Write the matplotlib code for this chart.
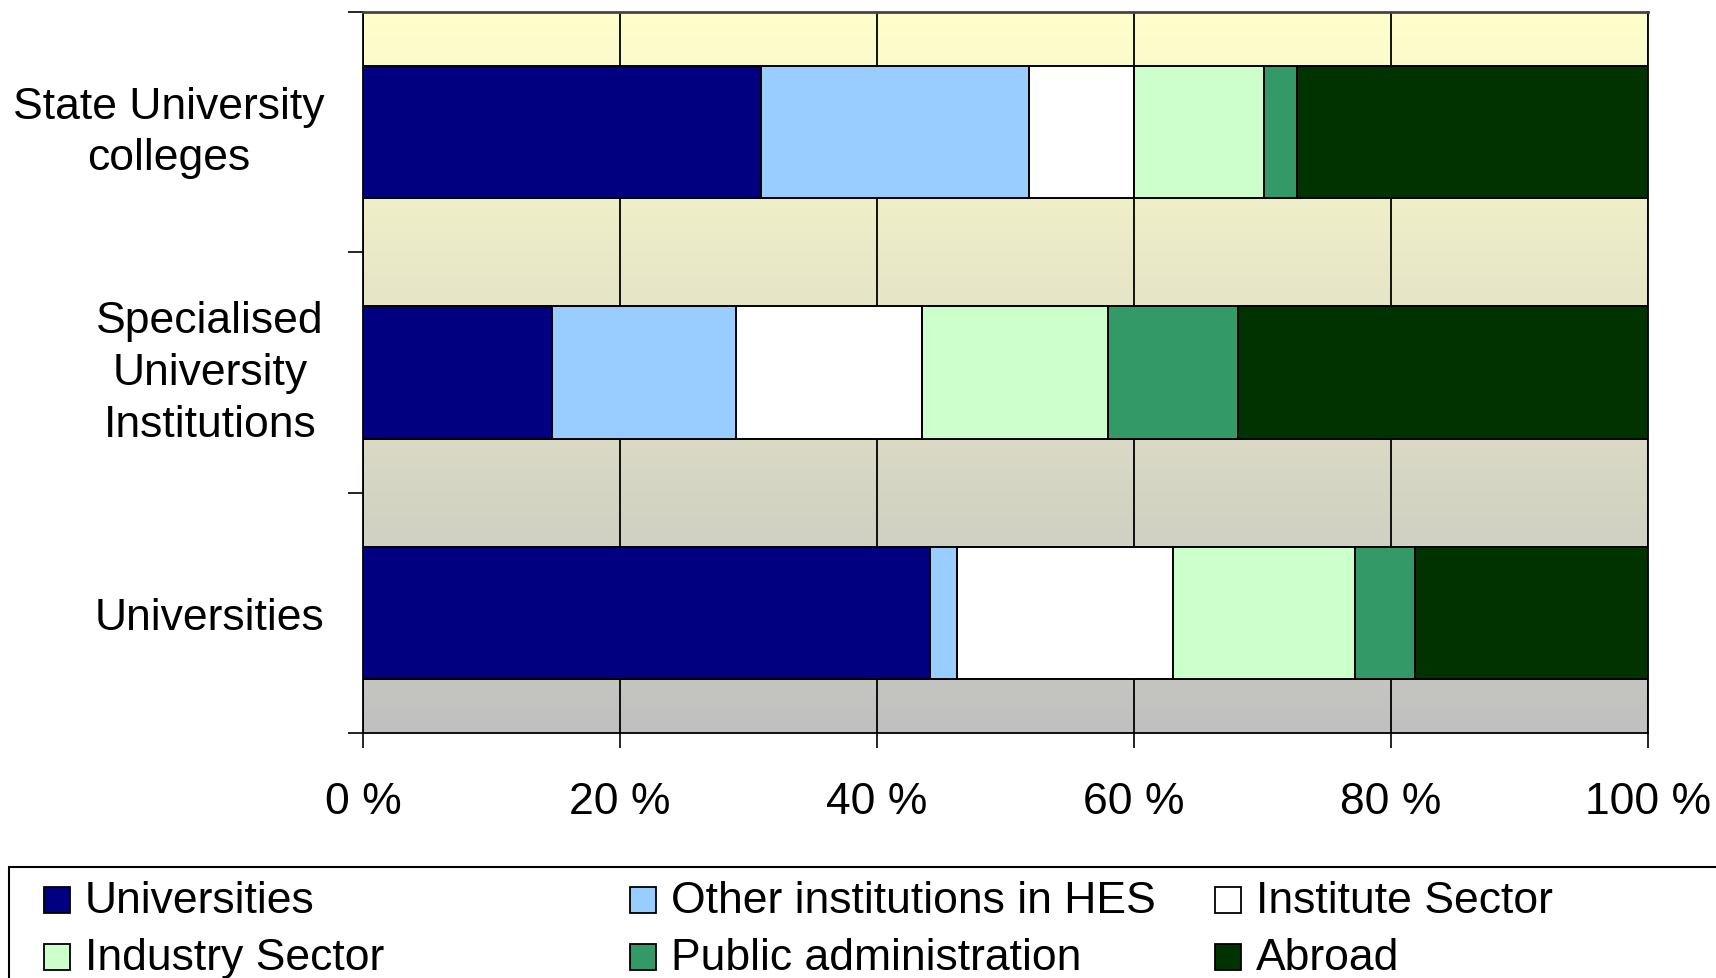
"""Stacked horizontal bars: where PhD graduates went, by institution type."""
import matplotlib
matplotlib.use("Agg")
import matplotlib.pyplot as plt
import numpy as np
from matplotlib.colors import LinearSegmentedColormap
from matplotlib.patches import Rectangle

plt.rcParams["font.family"] = ["Liberation Sans", "DejaVu Sans"]

# bottom -> top order on the y axis
categories = ["Universities", "Specialised\nUniversity\nInstitutions",
              "State University\ncolleges"]
series = ["Universities", "Other institutions in HES", "Institute Sector",
          "Industry Sector", "Public administration", "Abroad"]
colors = ["#000080", "#99CCFF", "#FFFFFF", "#CCFFCC", "#339966", "#003300"]

# percentage shares, one list per series, in category order above
universities = [44.1, 14.7, 31.0]
other_hes = [2.1, 14.3, 20.8]
institute = [16.8, 14.5, 8.2]
industry = [14.2, 14.5, 10.1]
public_admin = [4.7, 10.1, 2.6]
abroad = [18.1, 31.9, 27.3]

xticks = [0, 20, 40, 60, 80, 100]
xticklabels = ["0 %", "20 %", "40 %", "60 %", "80 %", "100 %"]

FS = 32

fig = plt.figure(figsize=(17.16, 9.79), dpi=100)
ax = fig.add_axes([0.2115, 0.2503, 0.9604 - 0.2115, 0.9867 - 0.2503])

# plot-area gradient fill (light yellow at top to grey at bottom)
grad = LinearSegmentedColormap.from_list("bg", ["#C0C0C0", "#FFFFCC"])
ax.imshow(np.linspace(0, 1, 256).reshape(-1, 1), cmap=grad, origin="lower",
          extent=[0, 100, -0.5, 2.5], aspect="auto", zorder=0)

y = np.arange(len(categories))
left = np.zeros(len(categories))
for vals, color, name in zip(
        [universities, other_hes, institute, industry, public_admin, abroad],
        colors, series):
    ax.barh(y, vals, left=left, height=0.55, color=color, edgecolor="black",
            linewidth=1.4, label=name, zorder=2)
    left += np.array(vals)

ax.set_xlim(0, 100)
ax.set_ylim(-0.5, 2.5)
ax.set_xticks(xticks, labels=xticklabels, fontsize=FS)
ax.grid(axis="x", color="black", linewidth=1.3, zorder=0.5)
ax.set_axisbelow(True)

# boundary ticks as major, category names as minor (unticked)
ax.set_yticks([-0.5, 0.5, 1.5, 2.5], labels=[])
ax.set_yticks(y, labels=categories, minor=True, fontsize=FS,
              multialignment="center", linespacing=1.33)
for lbl in ax.get_yticklabels(minor=True):
    if "\n" in lbl.get_text():
        lbl.set_verticalalignment("center")
ax.tick_params(axis="y", which="major", length=10.8, width=1.2)
ax.tick_params(axis="y", which="minor", length=0, pad=28)
ax.tick_params(axis="x", length=10.8, width=1.2, pad=24)

for side in ["left", "right", "top", "bottom"]:
    ax.spines[side].set_color("black")
    ax.spines[side].set_linewidth(1.3)
ax.spines["top"].set_color("#444444")
ax.spines["top"].set_linewidth(2.0)

# legend box (runs off the right and bottom of the canvas as in the source)
fig.add_artist(Rectangle((0.0052, -0.2), 1.2, 0.2 + 0.1134,
                         transform=fig.transFigure, facecolor="white",
                         edgecolor="black", linewidth=1.5, zorder=5))
col_x = [0.0256, 0.3671, 0.7080]
row_y = [0.0795, 0.0213]
for i, (name, color) in enumerate(zip(series, colors)):
    cx = col_x[i % 3]
    cy = row_y[i // 3]
    fig.add_artist(Rectangle((cx, cy - 0.0133), 0.0152, 0.0266,
                             transform=fig.transFigure, facecolor=color,
                             edgecolor="black", linewidth=1.3, zorder=6))
    fig.text(cx + 0.024, cy, name, fontsize=FS, va="center", ha="left",
             zorder=6)

fig.savefig("out.png", dpi=100)
